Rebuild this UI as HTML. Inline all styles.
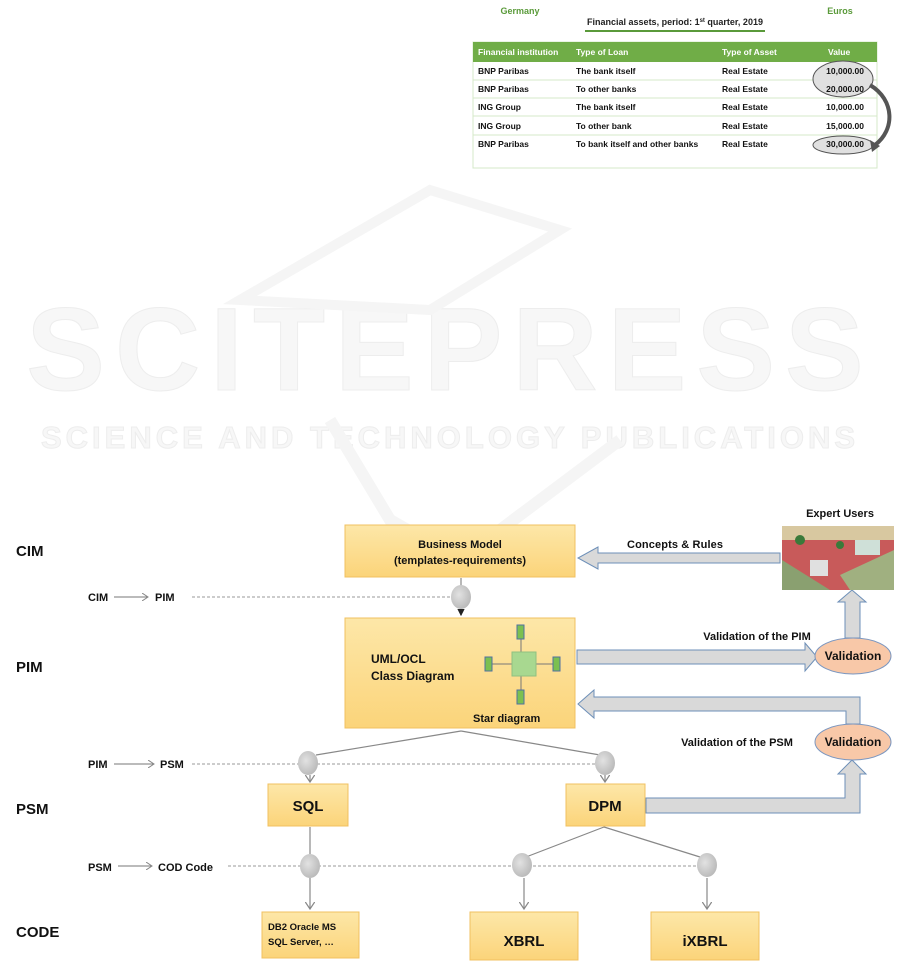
<!DOCTYPE html>
<html><head><meta charset="utf-8"><style>
body{margin:0;background:#fff;}
svg{display:block;font-family:"Liberation Sans",Arial,sans-serif;}
</style></head><body>
<svg width="901" height="962" viewBox="0 0 901 962" xmlns="http://www.w3.org/2000/svg">
<defs>
<linearGradient id="yb" x1="0" y1="0" x2="0" y2="1"><stop offset="0" stop-color="#fde7a8"/><stop offset="1" stop-color="#fbd47a"/></linearGradient>
<radialGradient id="ge" cx="0.4" cy="0.4" r="0.7"><stop offset="0" stop-color="#e2e2e2"/><stop offset="1" stop-color="#b5b5b5"/></radialGradient>
<marker id="ah" markerWidth="8" markerHeight="8" refX="6" refY="4" orient="auto"><path d="M0,0 L6,4 L0,8" fill="none" stroke="#888" stroke-width="1"/></marker>
<marker id="ahb" markerWidth="6" markerHeight="6" refX="5" refY="3" orient="auto"><path d="M0,0 L6,3 L0,6z" fill="#222"/></marker>
</defs>
<!-- watermark -->
<g fill="#f7f7f7" stroke="#ededed" stroke-width="1" font-weight="bold">
<text x="450" y="390" font-size="118" text-anchor="middle" letter-spacing="10">SCITEPRESS</text>
<text x="450" y="448" font-size="31" text-anchor="middle" letter-spacing="4">SCIENCE AND TECHNOLOGY PUBLICATIONS</text>
</g>
<path d="M240,300 L430,190 L560,230 L430,310 Z" fill="none" stroke="#f5f5f5" stroke-width="10"/>
<path d="M330,420 L390,520 L460,560 L540,500 L620,440" fill="none" stroke="#f5f5f5" stroke-width="12"/>

<!-- table -->
<g font-size="9" font-weight="bold">
<text x="520" y="14" fill="#5a9a3a" text-anchor="middle">Germany</text>
<text x="840" y="14" fill="#5a9a3a" text-anchor="middle">Euros</text>
<text x="675" y="25" fill="#222" text-anchor="middle">Financial assets, period: 1<tspan font-size="6" dy="-3">st</tspan><tspan dy="3"> quarter, 2019</tspan></text>
</g>
<line x1="585" y1="31" x2="765" y2="31" stroke="#5a9a3a" stroke-width="2"/>
<rect x="473" y="42" width="404" height="126" fill="#fff" stroke="#d5e8c8"/>
<rect x="473" y="42" width="404" height="20" fill="#70ad47"/>
<g stroke="#d5e8c8"><line x1="473" y1="80" x2="877" y2="80"/><line x1="473" y1="98" x2="877" y2="98"/><line x1="473" y1="116" x2="877" y2="116"/><line x1="473" y1="135" x2="877" y2="135"/></g>
<ellipse cx="843" cy="79" rx="30" ry="18" fill="#e0e0e0" stroke="#555"/>
<ellipse cx="843" cy="145" rx="30" ry="9" fill="#e0e0e0" stroke="#555"/>
<path d="M870,85 C895,100 895,130 875,145" fill="none" stroke="#555" stroke-width="4"/>
<path d="M870,140 L880,146 L872,152 Z" fill="#555"/>
<g font-size="8.5" font-weight="bold" fill="#fff">
<text x="478" y="55">Financial institution</text><text x="576" y="55">Type of Loan</text><text x="722" y="55">Type of Asset</text><text x="828" y="55">Value</text>
</g>
<g font-size="8.5" font-weight="bold" fill="#111">
<text x="478" y="74">BNP Paribas</text><text x="576" y="74">The bank itself</text><text x="722" y="74">Real Estate</text><text x="864" y="74" text-anchor="end">10,000.00</text>
<text x="478" y="92">BNP Paribas</text><text x="576" y="92">To other banks</text><text x="722" y="92">Real Estate</text><text x="864" y="92" text-anchor="end">20,000.00</text>
<text x="478" y="110">ING Group</text><text x="576" y="110">The bank itself</text><text x="722" y="110">Real Estate</text><text x="864" y="110" text-anchor="end">10,000.00</text>
<text x="478" y="129">ING Group</text><text x="576" y="129">To other bank</text><text x="722" y="129">Real Estate</text><text x="864" y="129" text-anchor="end">15,000.00</text>
<text x="478" y="147">BNP Paribas</text><text x="576" y="147">To bank itself and other banks</text><text x="722" y="147">Real Estate</text><text x="864" y="147" text-anchor="end">30,000.00</text>
</g>

<!-- level labels -->
<g font-size="15" font-weight="bold" fill="#111">
<text x="16" y="556">CIM</text><text x="16" y="672">PIM</text><text x="16" y="814">PSM</text><text x="16" y="937">CODE</text>
</g>
<g font-size="11" font-weight="bold" fill="#111">
<text x="88" y="601">CIM</text><text x="155" y="601">PIM</text>
<text x="88" y="768">PIM</text><text x="160" y="768">PSM</text>
<text x="88" y="871">PSM</text><text x="158" y="871">COD Code</text>
</g>
<g stroke="#777" fill="none"><line x1="114" y1="597" x2="148" y2="597" marker-end="url(#ah)"/><line x1="114" y1="764" x2="154" y2="764" marker-end="url(#ah)"/><line x1="118" y1="866" x2="152" y2="866" marker-end="url(#ah)"/></g>
<g stroke="#999" stroke-dasharray="3,2"><line x1="192" y1="597" x2="452" y2="597"/><line x1="192" y1="764" x2="600" y2="764"/><line x1="228" y1="866" x2="705" y2="866"/></g>

<!-- big arrows -->
<g fill="#d9d9d9" stroke="#6d8fb8" stroke-width="1">
<path d="M780,553 L598,553 L598,547 L578,558 L598,569 L598,563 L780,563 Z"/>
<path d="M577,650 L805,650 L805,643 L817,657 L805,671 L805,664 L577,664 Z"/>
<path d="M860,638 L860,602 L866,602 L852,590 L838,602 L845,602 L845,638 Z"/>
<path d="M860,724 L860,697 L594,697 L594,690 L578,704 L594,718 L594,711 L846,711 L846,724 Z"/>
<path d="M646,798 L845,798 L845,774 L838,774 L852,760 L866,774 L860,774 L860,813 L646,813 Z"/>
</g>
<g font-size="11" font-weight="bold" fill="#111">
<text x="675" y="548" text-anchor="middle" textLength="96">Concepts &amp; Rules</text>
<text x="757" y="640" text-anchor="middle">Validation of the PIM</text>
<text x="737" y="746" text-anchor="middle">Validation of the PSM</text>
<text x="840" y="517" text-anchor="middle">Expert Users</text>
</g>

<!-- expert image -->
<rect x="782" y="526" width="112" height="64" fill="#c85a5a"/>
<rect x="782" y="526" width="112" height="14" fill="#d8c8a0"/>
<path d="M782,560 L830,590 L782,590 Z" fill="#8aa070"/>
<path d="M840,575 L894,550 L894,590 L850,590 Z" fill="#a0b080"/>
<rect x="855" y="540" width="25" height="15" fill="#cfe0d8"/>
<rect x="810" y="560" width="18" height="16" fill="#e0e0e0"/>
<circle cx="800" cy="540" r="5" fill="#3a7a3a"/><circle cx="840" cy="545" r="4" fill="#3a7a3a"/>

<!-- validation ellipses -->
<ellipse cx="853" cy="656" rx="38" ry="18" fill="#f8c8a8" stroke="#7a96c0"/>
<ellipse cx="853" cy="742" rx="38" ry="18" fill="#f8c8a8" stroke="#7a96c0"/>
<g font-size="12" font-weight="bold" fill="#111" text-anchor="middle"><text x="853" y="660">Validation</text><text x="853" y="746">Validation</text></g>

<!-- boxes -->
<g fill="url(#yb)" stroke="#f0c060">
<rect x="345" y="525" width="230" height="52"/>
<rect x="345" y="618" width="230" height="110"/>
<rect x="268" y="784" width="80" height="42"/>
<rect x="566" y="784" width="79" height="42"/>
<rect x="262" y="912" width="97" height="46"/>
<rect x="470" y="912" width="108" height="48"/>
<rect x="651" y="912" width="108" height="48"/>
</g>
<g font-size="11" font-weight="bold" fill="#111" text-anchor="middle">
<text x="460" y="548">Business Model</text><text x="460" y="564">(templates-requirements)</text>
</g>
<g font-size="12" font-weight="bold" fill="#111">
<text x="371" y="663">UML/OCL</text><text x="371" y="680">Class Diagram</text>
<text x="473" y="722" font-size="11">Star diagram</text>
</g>
<!-- star -->
<g stroke="#777"><line x1="489" y1="664" x2="557" y2="664"/><line x1="521" y1="632" x2="521" y2="697"/></g>
<rect x="512" y="652" width="24" height="24" fill="#a8d890" stroke="#90c080"/>
<g fill="#7cc050" stroke="#5070a0"><rect x="517" y="625" width="7" height="14"/><rect x="517" y="690" width="7" height="14"/><rect x="485" y="657" width="7" height="14"/><rect x="553" y="657" width="7" height="14"/></g>
<g font-size="15" font-weight="bold" fill="#111" text-anchor="middle">
<text x="308" y="811">SQL</text><text x="605" y="811">DPM</text>
<text x="524" y="946">XBRL</text><text x="705" y="946">iXBRL</text>
</g>
<g font-size="9.5" font-weight="bold" fill="#111"><text x="268" y="930">DB2 Oracle MS</text><text x="268" y="945">SQL Server, …</text></g>

<!-- connectors -->
<g stroke="#888" fill="none" stroke-width="1.2">
<line x1="461" y1="578" x2="461" y2="586"/>
<line x1="461" y1="609" x2="461" y2="615" stroke="#222" marker-end="url(#ahb)"/>
<line x1="461" y1="731" x2="316" y2="755"/><line x1="461" y1="731" x2="600" y2="755"/>
<line x1="310" y1="775" x2="310" y2="782" marker-end="url(#ah)"/>
<line x1="605" y1="775" x2="605" y2="782" marker-end="url(#ah)"/>
<line x1="310" y1="827" x2="310" y2="854"/>
<line x1="604" y1="827" x2="526" y2="857"/><line x1="604" y1="827" x2="700" y2="857"/>
<line x1="310" y1="878" x2="310" y2="909" marker-end="url(#ah)"/>
<line x1="524" y1="878" x2="524" y2="909" marker-end="url(#ah)"/>
<line x1="707" y1="878" x2="707" y2="909" marker-end="url(#ah)"/>
</g>
<g fill="url(#ge)">
<ellipse cx="461" cy="597" rx="10" ry="12"/>
<ellipse cx="308" cy="763" rx="10" ry="12"/><ellipse cx="605" cy="763" rx="10" ry="12"/>
<ellipse cx="310" cy="866" rx="10" ry="12"/><ellipse cx="522" cy="865" rx="10" ry="12"/><ellipse cx="707" cy="865" rx="10" ry="12"/>
</g>
</svg>
</body></html>
